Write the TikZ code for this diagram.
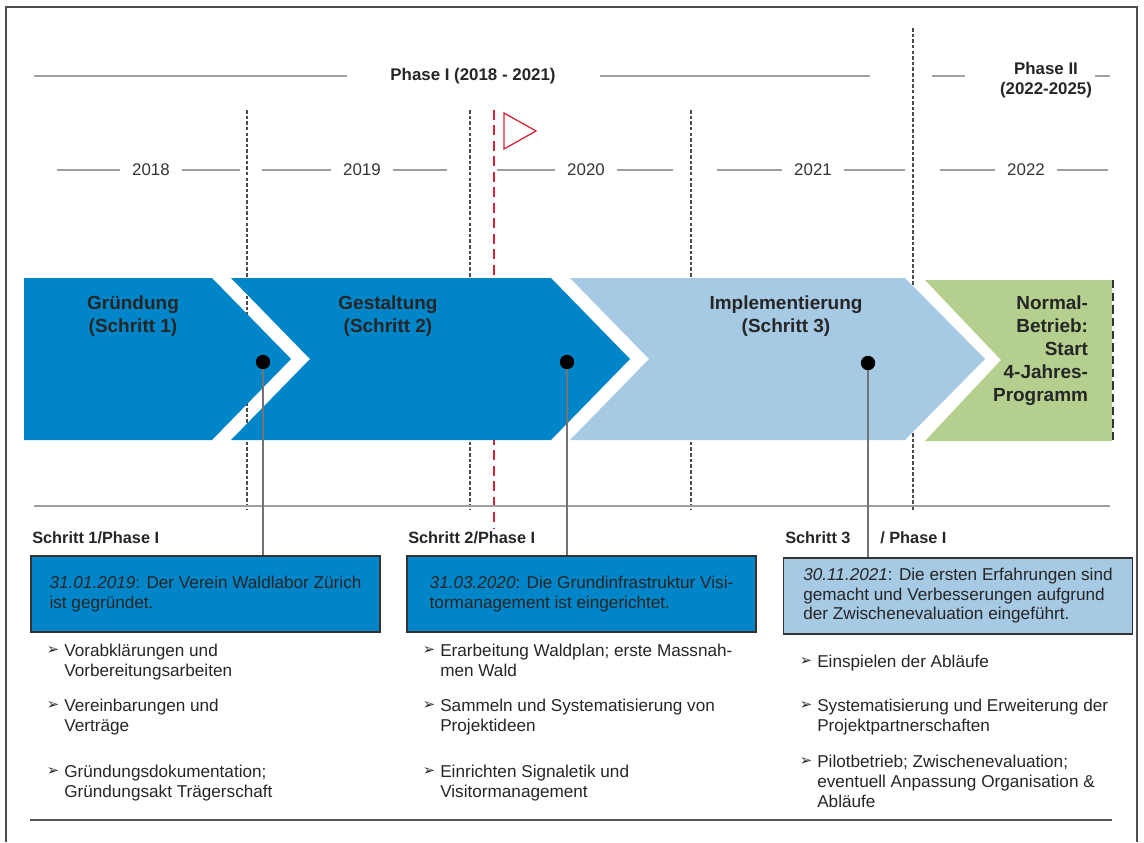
\documentclass[tikz,border=0pt]{standalone}
\usepackage{fontspec}
\setmainfont{Liberation Sans}
\newfontfamily\symfont{DejaVu Sans}
\usetikzlibrary{positioning, calc}

\definecolor{stepdark}{HTML}{0086C8}
\definecolor{steplight}{HTML}{A6C9E4}
\definecolor{stepgreen}{HTML}{B4CF8E}
\definecolor{flagred}{HTML}{D3243A}
\definecolor{rulegray}{HTML}{A0A0A0}

\tikzset{
  yearline/.style={rulegray, line width=1.4pt},
  yeardash/.style={black!70, line width=1.1pt, dash pattern=on 2.5pt off 1.5pt},
  yearlabel/.style={inner xsep=0.3cm, text=black!80, font=\fontsize{12}{14}\selectfont},
  phaselabel/.style={align=center, text=black!85, font=\bfseries\fontsize{12}{14.2}\selectfont},
  stepname/.style={align=center, text=black!85, font=\bfseries\fontsize{13.5}{16.4}\selectfont},
  dot/.style={circle, fill=black, inner sep=0pt, minimum size=0.36cm},
  stem/.style={black!55, line width=1.1pt},
  steptitle/.style={anchor=west, inner sep=0pt, text=black!85, font=\bfseries\fontsize{11.6}{14}\selectfont},
  datebox/.style={draw=black!80, line width=1.2pt, minimum width=8.725cm, minimum height=1.9cm,
    align=left, text=black!85, font=\fontsize{12.2}{13.9}\selectfont},
  bulletmark/.style={inner sep=0pt, text=black!85, font=\symfont\fontsize{10.5}{10.5}\selectfont},
  itemtext/.style={anchor=north west, inner sep=0pt, align=left, text=black!85,
    font=\fontsize{12.2}{14.2}\selectfont}
}

\begin{document}
\begin{tikzpicture}[x=0.025cm, y=-0.025cm]
\useasboundingbox (0,0) rectangle (1144,842);
% frame
\draw[black!70, line width=1.1pt] (6,842) -- (6,7) -- (1137,7) -- (1137,842);

% phases
\node[phaselabel] (ph1) at (473,76) {Phase I (2018 - 2021)};
\draw[yearline] (34,76) -- (347,76);
\draw[yearline] (600,76) -- (870,76);
\node[phaselabel] (ph2) at (1046,80) {Phase II\\(2022-2025)};
\draw[yearline] (932,76) -- (965,76);
\draw[yearline] (1095,76) -- (1110,76);

% year dividers
\foreach \x/\t in {247/110, 470/110, 691/110, 913/28}
  \draw[yeardash] (\x,\t) -- (\x,510);

% years
\foreach \yr/\x/\l/\r in {2018/151/57/240, 2019/362/262/447, 2020/586/497/673,
  2021/813/717/905, 2022/1026/940/1108} {
  \node[yearlabel] (y\yr) at (\x,170) {\yr};
  \draw[yearline] (\l,170) -- (y\yr.west);
  \draw[yearline] (y\yr.east) -- (\r,170);
}

% today marker
\draw[flagred, line width=1.5pt, dash pattern=on 7pt off 4pt] (494,110) -- (494,528);
\draw[flagred, line width=0.9pt, line join=miter] (504,113) -- (536,131) -- (504,149) -- cycle;

% chevrons
\fill[stepdark] (24,278) -- (212,278) -- (291,359) -- (212,440) -- (24,440) -- cycle;
\fill[stepdark] (231,278) -- (551,278) -- (630,359) -- (551,440) -- (231,440) -- (310,359) -- cycle;
\fill[steplight] (570,278) -- (905,278) -- (985,359) -- (905,440) -- (570,440) -- (649,359) -- cycle;
\fill[stepgreen] (925,280) -- (1112,280) -- (1112,441) -- (925,441) -- (1001,360) -- cycle;
\draw[black!80, line width=1.1pt, dash pattern=on 6pt off 3pt] (1113,280) -- (1113,441);

\node[stepname] (s1) at (133,316) {Gründung\\(Schritt 1)};
\node[stepname] (s2) at (388,316) {Gestaltung\\(Schritt 2)};
\node[stepname] (s3) at (786,316) {Implementierung\\(Schritt 3)};
\node[stepname, align=right, anchor=east] (s4) at (1093,351) {Normal-\\Betrieb:\\Start\\4-Jahres-\\Programm};

% separators
\draw[rulegray, line width=1.5pt] (34,506) -- (1110,506);
\draw[black!65, line width=1.5pt] (30,820) -- (1112,820);

% milestones
\node[steptitle] (h1) at (32,538) {Schritt 1/Phase I};
\node[steptitle] (h2) at (408,538) {Schritt 2/Phase I};
\node[steptitle] (h3) at (785,538) {Schritt 3};
\node[steptitle] (h3b) at (880,538) {/ Phase I};

\node[datebox, fill=stepdark] (b1) at (205.5,594)
  {\textit{31.01.2019}: Der Verein Waldlabor Zürich\\ist gegründet.};
\node[datebox, fill=stepdark] (b2) at (581.5,594)
  {\textit{31.03.2020}: Die Grundinfrastruktur Visi-\\tormanagement ist eingerichtet.};
\node[datebox, fill=steplight] (b3) at (958,596)
  {\textit{30.11.2021}: Die ersten Erfahrungen sind\\gemacht und Verbesserungen aufgrund\\der Zwischenevaluation eingeführt.};

\node[dot] (d1) at (263,362) {};
\node[dot] (d2) at (567,362) {};
\node[dot] (d3) at (868,363) {};
\draw[stem] (d1) -- (d1 |- b1.north);
\draw[stem] (d2) -- (d2 |- b2.north);
\draw[stem] (d3) -- (d3 |- b3.north);

% tasks
\foreach \i/\y/\t in {1/651/{Vorabklärungen und\\Vorbereitungsarbeiten},
  2/706/{Vereinbarungen und\\Verträge},
  3/772/{Gründungsdokumentation;\\Gründungsakt Trägerschaft}} {
  \node[bulletmark] (ma\i) at (53,\y) {➢};
  \node[itemtext] (ta\i) at (64,\y-7) {\t};
}
\foreach \i/\y/\t in {1/651/{Erarbeitung Waldplan; erste Massnah-\\men Wald},
  2/706/{Sammeln und Systematisierung von\\Projektideen},
  3/772/{Einrichten Signaletik und\\Visitormanagement}} {
  \node[bulletmark] (mb\i) at (429,\y) {➢};
  \node[itemtext] (tb\i) at (440,\y-7) {\t};
}
\foreach \i/\y/\t in {1/662/{Einspielen der Abläufe},
  2/706/{Systematisierung und Erweiterung der\\Projektpartnerschaften},
  3/762/{Pilotbetrieb; Zwischenevaluation;\\eventuell Anpassung Organisation \&\\Abläufe}} {
  \node[bulletmark] (mc\i) at (806,\y) {➢};
  \node[itemtext] (tc\i) at (817,\y-7) {\t};
}
\end{tikzpicture}
\end{document}
